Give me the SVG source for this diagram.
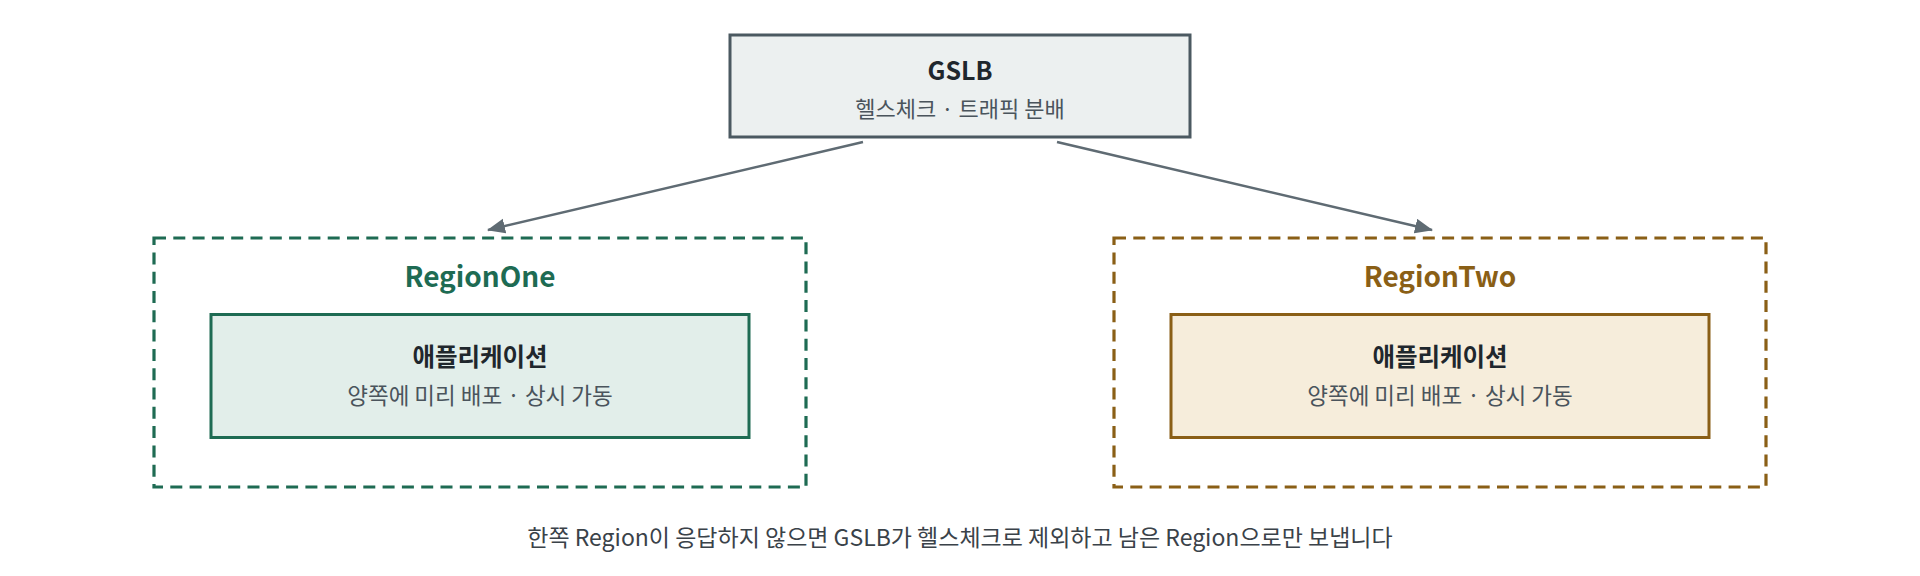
<svg xmlns="http://www.w3.org/2000/svg" width="1920" height="576" viewBox="0 0 1920 576">
  <style>
    text { font-family: "Noto Sans CJK KR", "Noto Sans", sans-serif; text-anchor: middle; }
    .title { font-weight: 700; font-size: 24.5px; fill: #1f272d; }
    .sub { font-size: 22.5px; fill: #4a545c; }
    .region-one { font-weight: 700; font-size: 28px; fill: #1e6b53; }
    .region-two { font-weight: 700; font-size: 28px; fill: #8a5f16; }
    .note { font-size: 23px; fill: #3a4249; }
    .conn { stroke: #5f6b73; stroke-width: 2.5; fill: none; }
  </style>
  <defs>
    <marker id="arrow" markerUnits="userSpaceOnUse" markerWidth="20" markerHeight="16" refX="17" refY="7.5" orient="auto">
      <path d="M0,0 L18,7.5 L0,15 z" fill="#5f6b73"/>
    </marker>
  </defs>
  <rect width="1920" height="576" fill="#ffffff"/>

  <g id="node-gslb">
    <rect x="730" y="35" width="460" height="102" fill="#ecf0f0" stroke="#4b5961" stroke-width="3"/>
    <text class="title" x="960" y="80" style="font-size:25px">GSLB</text>
    <text class="sub" x="960" y="117" style="font-size:22px">헬스체크 · 트래픽 분배</text>
  </g>

  <g id="node-region-one">
    <rect x="154" y="238" width="652" height="249" fill="none" stroke="#1e6b53" stroke-width="3.2" stroke-dasharray="12 7.3"/>
    <text class="region-one" x="480" y="287">RegionOne</text>
  </g>
  <g id="node-app-one">
    <rect x="211" y="314.5" width="538" height="123" fill="#e2eeea" stroke="#1e6b53" stroke-width="3"/>
    <text class="title" x="480" y="366">애플리케이션</text>
    <text class="sub" x="480" y="404">양쪽에 미리 배포 · 상시 가동</text>
  </g>

  <g id="node-region-two">
    <rect x="1114" y="238" width="652" height="249" fill="none" stroke="#8a5f16" stroke-width="3.2" stroke-dasharray="12 7.3"/>
    <text class="region-two" x="1440" y="287">RegionTwo</text>
  </g>
  <g id="node-app-two">
    <rect x="1171" y="314.5" width="538" height="123" fill="#f6eddb" stroke="#8a5f16" stroke-width="3"/>
    <text class="title" x="1440" y="366">애플리케이션</text>
    <text class="sub" x="1440" y="404">양쪽에 미리 배포 · 상시 가동</text>
  </g>

  <g id="connectors">
    <line class="conn" x1="863" y1="142" x2="488" y2="230" marker-end="url(#arrow)"/>
    <line class="conn" x1="1057" y1="142" x2="1432" y2="230" marker-end="url(#arrow)"/>
  </g>

  <text class="note" x="960" y="546">한쪽 Region이 응답하지 않으면 GSLB가 헬스체크로 제외하고 남은 Region으로만 보냅니다</text>
</svg>
